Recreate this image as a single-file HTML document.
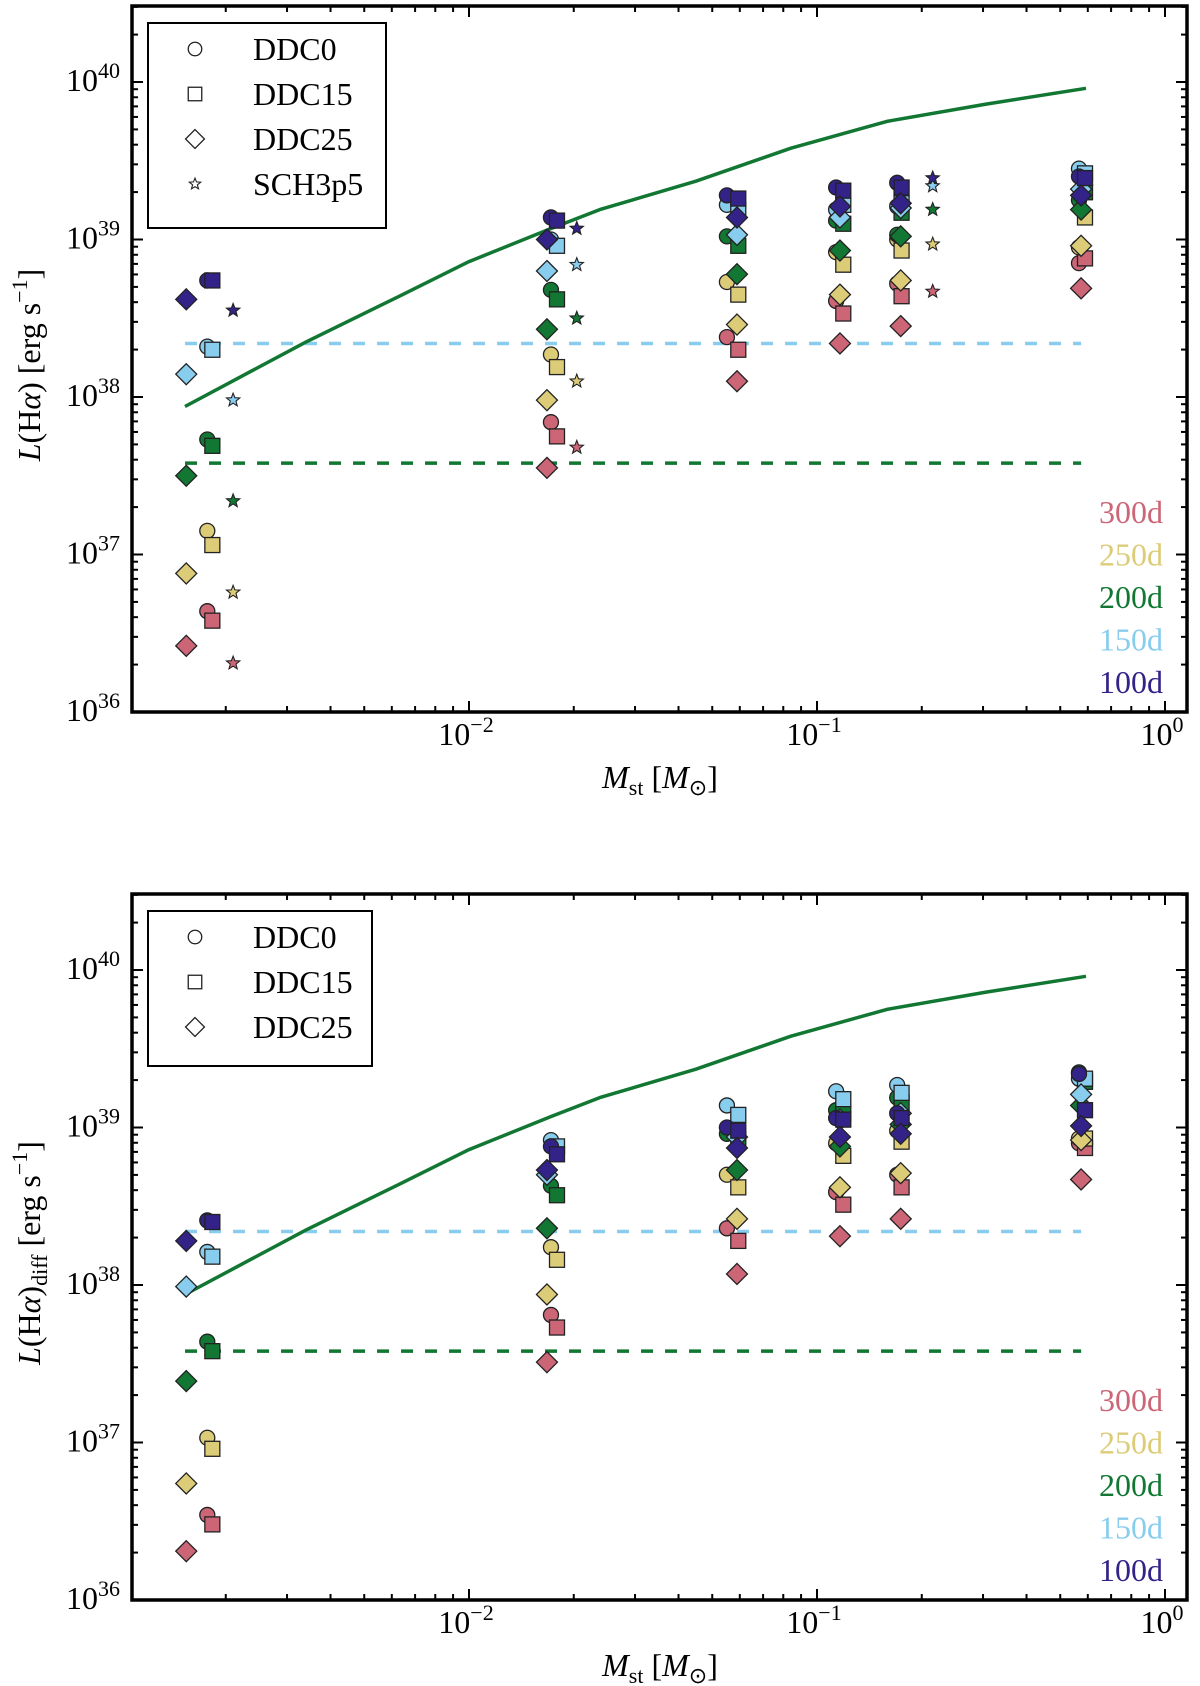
<!DOCTYPE html>
<html><head><meta charset="utf-8">
<style>
html,body{margin:0;padding:0;background:#fff;}
svg{display:block;font-family:"Liberation Serif",serif;}
</style></head>
<body>
<svg id="chart" width="1200" height="1686" viewBox="0 0 1200 1686" xmlns="http://www.w3.org/2000/svg"></svg>
<script>
// ---------- data ----------
const epochs = ["300d","250d","200d","150d","100d"];
const epochColors = ["#CC6677","#DDCC77","#117733","#88CCEE","#332288"];
const yTickExps = [36,37,38,39,40];
const xTickExps = [-2,-1,0];
const xTickLabels = ["10\u22122","10\u22121","10\u2070"];

// stellar masses (Msun) per model
const massDDC0  = [0.00177,0.0172,0.0551,0.1135,0.170,0.566];
const massDDC15 = [0.00183,0.0179,0.0594,0.119,0.175,0.589];
const massDDC25 = [0.00154,0.01675,0.0589,0.1164,0.174,0.574];
const massSCH   = [0.0021,0.0204,0.215];

// top panel: log10 L(Halpha) — rows are epochs 300d,250d,200d,150d,100d
const topDDC0 = [
 [36.64,37.84,38.38,38.61,38.72,38.85],
 [37.15,38.27,38.73,38.92,39.00,38.95],
 [37.73,38.68,39.02,39.12,39.03,39.25],
 [38.32,39.00,39.22,39.19,39.21,39.45],
 [38.74,39.14,39.28,39.33,39.36,39.40]];
const topDDC15 = [
 [36.58,37.75,38.30,38.53,38.64,38.88],
 [37.06,38.19,38.65,38.84,38.93,39.14],
 [37.69,38.62,38.96,39.10,39.17,39.30],
 [38.30,38.96,39.19,39.22,39.23,39.42],
 [38.74,39.12,39.26,39.31,39.33,39.39]];
const topDDC25 = [
 [36.42,37.55,38.10,38.34,38.45,38.69],
 [36.88,37.98,38.46,38.65,38.74,38.96],
 [37.50,38.43,38.78,38.93,39.02,39.19],
 [38.145,38.80,39.03,39.14,39.20,39.32],
 [38.62,39.00,39.14,39.21,39.23,39.28]];
const topSCH = [
 [36.31,37.68,38.67],
 [36.76,38.10,38.97],
 [37.34,38.50,39.19],
 [37.98,38.84,39.34],
 [38.55,39.07,39.39]];

// bottom panel: log10 L(Halpha)_diff
const botDDC0 = [
 [36.54,37.81,38.36,38.59,38.70,38.90],
 [37.03,38.24,38.70,38.90,38.98,38.93],
 [37.64,38.63,38.96,39.11,39.19,39.35],
 [38.21,38.92,39.14,39.23,39.27,39.31],
 [38.41,38.88,39.00,39.06,39.09,39.34]];
const botDDC15 = [
 [36.48,37.73,38.28,38.51,38.62,38.87],
 [36.96,38.16,38.62,38.82,38.91,38.93],
 [37.58,38.57,38.93,39.09,39.16,39.29],
 [38.18,38.88,39.08,39.18,39.22,39.31],
 [38.40,38.83,38.98,39.05,39.06,39.11]];
const botDDC25 = [
 [36.31,37.51,38.07,38.31,38.42,38.67],
 [36.74,37.94,38.42,38.62,38.71,38.92],
 [37.39,38.36,38.73,38.88,39.02,39.14],
 [37.99,38.70,38.94,39.05,39.09,39.21],
 [38.28,38.73,38.87,38.94,38.96,39.01]];

// model curve (log10 M, log10 L)
const curveLogM = [-2.816,-2.468,-2.2,-2.0,-1.764,-1.624,-1.348,-1.075,-0.799,-0.514,-0.227];
const curveLogL = [37.94,38.35,38.64,38.86,39.07,39.19,39.37,39.58,39.75,39.86,39.96];
// threshold lines (log10 L) and x extent (log10 M)
const thresholdLogL = [38.34,37.58];
const thresholdColors = ["#88CCEE","#117733"];
const thresholdLogMRange = [-2.816,-0.241];

// ---------- geometry ----------
const X0 = 132, X1 = 1187;
const panels = [{top:6,bottom:712},{top:894,bottom:1600}];
function xS(logm){ return 469 + (logm + 2) * 348; }
function yS(logl, p){ return p.bottom - (logl - 36) * 157.5; }

const svg = document.getElementById('chart');
const NS = "http://www.w3.org/2000/svg";
function mk(tag, attrs, parent){
  const e = document.createElementNS(NS, tag);
  for (const k in attrs) e.setAttribute(k, attrs[k]);
  (parent || svg).appendChild(e);
  return e;
}

function marker(shape, cx, cy, fill, g, s){
  s = s || 1;
  let e;
  if (shape === 'circle') e = mk('circle',{cx:cx,cy:cy,r:7.5*s,fill:fill,stroke:'#222','stroke-width':1.3},g);
  else if (shape === 'square') e = mk('rect',{x:cx-7.5*s,y:cy-7.5*s,width:15*s,height:15*s,fill:fill,stroke:'#222','stroke-width':1.3},g);
  else if (shape === 'diamond') { const r=10.5*s; e = mk('polygon',{points:`${cx},${cy-r} ${cx+r},${cy} ${cx},${cy+r} ${cx-r},${cy}`,fill:fill,stroke:'#222','stroke-width':1.3},g); }
  else { const R=7*s, r=3*s; let pts=[]; for(let i=0;i<10;i++){const a=-Math.PI/2+i*Math.PI/5;const rr=i%2?r:R;pts.push((cx+rr*Math.cos(a)).toFixed(1)+','+(cy+rr*Math.sin(a)).toFixed(1));}
    e = mk('polygon',{points:pts.join(' '),fill:fill,stroke:'#222','stroke-width':1.1},g); }
  return e;
}

function drawPanel(pi, models, ylabelSub, legendItems){
  const p = panels[pi];
  const g = mk('g',{});
  
  

  // ticks
  const tg = mk('g',{stroke:'#000','stroke-width':2},g);
  
  
  for (let e=36; e<=40; e++){
    for (let m=1; m<=9; m++){
      const y = yS(e + Math.log10(m), p);
      if (y < p.top) continue;
      const len = m===1 ? 11 : 6;
      mk('line',{x1:X0,x2:X0+len,y1:y,y2:y},tg);
      mk('line',{x1:X1,x2:X1-len,y1:y,y2:y},tg);
    }
  }
  for (let e=-3; e<=0; e++){
    for (let m=1; m<=9; m++){
      const x = xS(e + Math.log10(m));
      if (x < X0 || x > X1) continue;
      const len = m===1 ? 11 : 6;
      mk('line',{x1:x,x2:x,y1:p.bottom,y2:p.bottom-len},tg);
      mk('line',{x1:x,x2:x,y1:p.top,y2:p.top+len},tg);
    }
  }
  // frame
  const fr = mk('rect',{x:X0,y:p.top,width:X1-X0,height:p.bottom-p.top,fill:'none',stroke:'#000','stroke-width':3.5},g);
  
  

  // y tick labels
  yTickExps.forEach(e=>{
    const t = mk('text',{x:120,y:yS(e,p)+9,'text-anchor':'end','font-size':32},g);
    
    
    t.innerHTML = `10<tspan dy="-13" font-size="22">${e}</tspan>`;
  });
  // x tick labels
  xTickExps.forEach((e,i)=>{
    const t = mk('text',{x:xS(e)-3,y:p.bottom+33,'text-anchor':'middle','font-size':32},g);
    
    
    const sup = e===0 ? '0' : '\u2212'+(-e);
    t.innerHTML = `10<tspan dy="-13" font-size="22">${sup}</tspan>`;
  });
  // axis titles
  const xt = mk('text',{x:660,y:p.bottom+76,'text-anchor':'middle','font-size':32},g);
  
  
  xt.innerHTML = `<tspan font-style="italic">M</tspan><tspan font-size="22" dy="7">st</tspan><tspan dy="-7"> [</tspan><tspan font-style="italic">M</tspan><tspan font-size="22" dy="7">\u2299</tspan><tspan dy="-7">]</tspan>`;
  const cy = (p.top+p.bottom)/2 + 6;
  const yt = mk('text',{x:0,y:0,'text-anchor':'middle','font-size':32,transform:`translate(40,${cy}) rotate(-90)`},g);
  
  
  yt.innerHTML = `<tspan font-style="italic">L</tspan>(H<tspan font-style="italic">\u03b1</tspan>)` + (ylabelSub ? `<tspan font-size="22" dy="7">diff</tspan><tspan dy="-7"> </tspan>` : ' ') + `[erg s<tspan dy="-13" font-size="22">\u22121</tspan><tspan dy="13">]</tspan>`;

  // threshold dashed lines
  thresholdLogL.forEach((l,i)=>{
    const ln = mk('line',{x1:xS(thresholdLogMRange[0]),x2:xS(thresholdLogMRange[1]),y1:yS(l,p),y2:yS(l,p),stroke:thresholdColors[i],'stroke-width':3.5,'stroke-dasharray':'12 12'},g);
    
    
  });
  // model curve
  const d = curveLogM.map((m,i)=>(i?'L':'M')+xS(m).toFixed(1)+','+yS(curveLogL[i],p).toFixed(1)).join(' ');
  const cv = mk('path',{d:d,fill:'none',stroke:'#117733','stroke-width':3.5,'stroke-linejoin':'round'},g);
  
  

  // points: epochs 300->100, models in order
  const pg = mk('g',{},g);
  
  
  for (let ei=0; ei<epochs.length; ei++){
    models.forEach(md=>{
      md.vals[ei].forEach((l,k)=>{
        const el = marker(md.shape, xS(Math.log10(md.mass[k])), yS(l,p), epochColors[ei], pg, 1);
        
        
      });
    });
  }

  // legend box
  const lg = mk('g',{},g);
  
  
  mk('rect',{x:148,y:p.top+17,width:legendItems.length===4?238:224,height:legendItems.length===4?205:155,fill:'#fff',stroke:'#000','stroke-width':2},lg);
  legendItems.forEach((it,i)=>{
    const e = mk('g',{},lg);
    
    
    marker(it.shape,195,p.top+43+i*45,'#fff',e,it.shape==='star'?0.85:0.9);
    const t = mk('text',{x:253,y:p.top+54+i*45,'font-size':32},e);
    t.textContent = it.name;
  });

  // epoch labels
  epochs.forEach((ep,i)=>{
    const t = mk('text',{x:1163,y:p.bottom-189+i*42.5,'text-anchor':'end','font-size':32,fill:epochColors[i]},g);
    
    
    t.textContent = ep;
  });
}

drawPanel(0,[
  {name:'ddc0',shape:'circle',mass:massDDC0,vals:topDDC0},
  {name:'ddc15',shape:'square',mass:massDDC15,vals:topDDC15},
  {name:'ddc25',shape:'diamond',mass:massDDC25,vals:topDDC25},
  {name:'sch3p5',shape:'star',mass:massSCH,vals:topSCH}
], false, [{name:'DDC0',shape:'circle'},{name:'DDC15',shape:'square'},{name:'DDC25',shape:'diamond'},{name:'SCH3p5',shape:'star'}]);

drawPanel(1,[
  {name:'ddc0',shape:'circle',mass:massDDC0,vals:botDDC0},
  {name:'ddc15',shape:'square',mass:massDDC15,vals:botDDC15},
  {name:'ddc25',shape:'diamond',mass:massDDC25,vals:botDDC25}
], true, [{name:'DDC0',shape:'circle'},{name:'DDC15',shape:'square'},{name:'DDC25',shape:'diamond'}]);
</script>
</body></html>
